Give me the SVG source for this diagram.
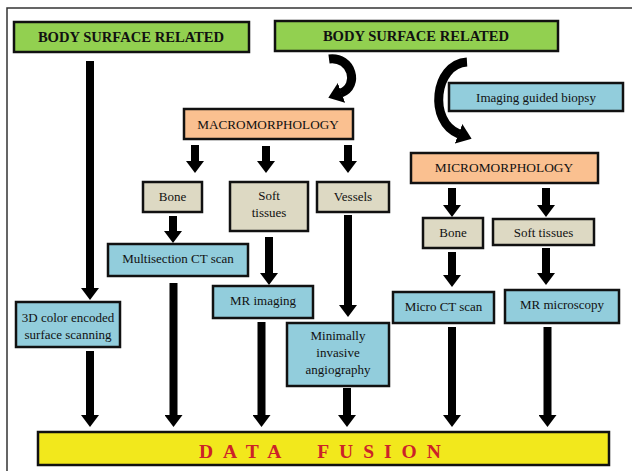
<svg xmlns="http://www.w3.org/2000/svg" width="632" height="471" viewBox="0 0 632 471">
<defs>
<style>
.frame{stroke:#333;stroke-width:1.5;fill:none}
.box{stroke:#111;stroke-width:2.5}
.green{fill:#92d050}
.orange{fill:#fac090}
.blue{fill:#92cddc}
.tan{fill:#ddd9c3}
.yellow{fill:#f2e81c}
.hdr{font-family:"Liberation Serif","Times New Roman",serif;font-weight:bold;font-size:14.6px;text-anchor:middle;fill:#111}
.lbl{font-family:"Liberation Serif","Times New Roman",serif;font-size:13px;text-anchor:middle;fill:#111}
.fusion{font-family:"Liberation Serif","Times New Roman",serif;font-weight:bold;font-size:19.5px;letter-spacing:10px;fill:#cc2229}
.conn{stroke:#000;stroke-width:8;fill:none}
.curve{stroke:#000;stroke-width:9;fill:none}
</style>
<marker id="ah" markerUnits="userSpaceOnUse" markerWidth="12" markerHeight="18" viewBox="0 0 12 18" refX="0.5" refY="9" orient="auto"><path d="M0,0L12,9L0,18z" fill="#000"/></marker>
<marker id="ahc" markerUnits="userSpaceOnUse" markerWidth="14" markerHeight="21" viewBox="0 0 14 21" refX="0.5" refY="10.5" orient="auto"><path d="M0,0L14,10.5L0,21z" fill="#000"/></marker>
</defs>
<rect width="632" height="471" fill="#fff"/>
<path class="frame" d="M632,8H7V471"/>

<g id="connectors">
<path class="curve" d="M329,59C352,56 360,86 341,93" marker-end="url(#ahc)"/>
<path class="curve" d="M467,62C434,64 428,122 459,134" marker-end="url(#ahc)"/>
<line class="conn" x1="90" y1="61" x2="90" y2="288.5" marker-end="url(#ah)"/>
<line class="conn" x1="195" y1="145" x2="195" y2="161.5" marker-end="url(#ah)"/>
<line class="conn" x1="266" y1="146" x2="266" y2="161.5" marker-end="url(#ah)"/>
<line class="conn" x1="348" y1="145" x2="348" y2="161.5" marker-end="url(#ah)"/>
<line class="conn" x1="173" y1="216" x2="173" y2="231.5" marker-end="url(#ah)"/>
<line class="conn" x1="269" y1="237" x2="269" y2="273.5" marker-end="url(#ah)"/>
<line class="conn" x1="348" y1="215" x2="348" y2="305.5" marker-end="url(#ah)"/>
<line class="conn" x1="452" y1="188" x2="452" y2="205.5" marker-end="url(#ah)"/>
<line class="conn" x1="546" y1="188" x2="546" y2="205.5" marker-end="url(#ah)"/>
<line class="conn" x1="452" y1="252" x2="452" y2="275.5" marker-end="url(#ah)"/>
<line class="conn" x1="546" y1="248" x2="546" y2="273.5" marker-end="url(#ah)"/>
<line class="conn" x1="90" y1="351" x2="90" y2="415.5" marker-end="url(#ah)"/>
<line class="conn" x1="173.5" y1="283" x2="173.5" y2="415.5" marker-end="url(#ah)"/>
<line class="conn" x1="261.5" y1="322" x2="261.5" y2="415.5" marker-end="url(#ah)"/>
<line class="conn" x1="347" y1="388" x2="347" y2="415.5" marker-end="url(#ah)"/>
<line class="conn" x1="452" y1="327" x2="452" y2="415.5" marker-end="url(#ah)"/>
<line class="conn" x1="547.5" y1="327" x2="547.5" y2="415.5" marker-end="url(#ah)"/>
</g>

<g id="body-surface-left">
<rect class="box green" x="14" y="22" width="235" height="30"/>
<text class="hdr" x="131" y="42">BODY SURFACE RELATED</text>
</g>
<g id="body-surface-right">
<rect class="box green" x="275" y="21" width="283" height="30"/>
<text class="hdr" x="416" y="41">BODY SURFACE RELATED</text>
</g>
<g id="macromorphology">
<rect class="box orange" x="184" y="109" width="169" height="30"/>
<text class="lbl" x="268" y="128.5" style="font-size:13.2px">MACROMORPHOLOGY</text>
</g>
<g id="imaging-guided-biopsy">
<rect class="box blue" x="449" y="83" width="174" height="28"/>
<text class="lbl" x="536" y="101.5">Imaging guided biopsy</text>
</g>
<g id="micromorphology">
<rect class="box orange" x="411" y="153" width="187" height="30"/>
<text class="lbl" x="504" y="172" style="font-size:13.4px">MICROMORPHOLOGY</text>
</g>
<g id="macro-bone">
<rect class="box tan" x="143" y="182" width="59" height="30"/>
<text class="lbl" x="172.5" y="200.5">Bone</text>
</g>
<g id="macro-soft-tissues">
<rect class="box tan" x="230" y="182" width="78" height="49"/>
<text class="lbl" x="269" y="200">Soft</text>
<text class="lbl" x="269" y="217">tissues</text>
</g>
<g id="vessels">
<rect class="box tan" x="317" y="182" width="72" height="30"/>
<text class="lbl" x="353" y="200.5">Vessels</text>
</g>
<g id="micro-bone">
<rect class="box tan" x="423" y="218" width="60" height="30"/>
<text class="lbl" x="453" y="236.5">Bone</text>
</g>
<g id="micro-soft-tissues">
<rect class="box tan" x="493" y="219" width="101" height="26"/>
<text class="lbl" x="543.5" y="236.5">Soft tissues</text>
</g>
<g id="multisection-ct">
<rect class="box blue" x="108" y="244" width="140" height="32"/>
<text class="lbl" x="178" y="263">Multisection CT scan</text>
</g>
<g id="mr-imaging">
<rect class="box blue" x="213" y="286" width="100" height="32"/>
<text class="lbl" x="263" y="305">MR imaging</text>
</g>
<g id="surface-scanning">
<rect class="box blue" x="16" y="302" width="104" height="45"/>
<text class="lbl" x="68" y="322">3D color encoded</text>
<text class="lbl" x="68" y="339">surface scanning</text>
</g>
<g id="angiography">
<rect class="box blue" x="287" y="323" width="102" height="63"/>
<text class="lbl" x="338" y="340">Minimally</text>
<text class="lbl" x="338" y="357">invasive</text>
<text class="lbl" x="338" y="374">angiography</text>
</g>
<g id="micro-ct">
<rect class="box blue" x="393" y="292" width="101" height="31"/>
<text class="lbl" x="443.5" y="311">Micro CT scan</text>
</g>
<g id="mr-microscopy">
<rect class="box blue" x="505" y="290" width="114" height="33"/>
<text class="lbl" x="562" y="309">MR microscopy</text>
</g>
<g id="data-fusion">
<rect class="box yellow" x="38" y="432" width="571" height="33"/>
<text class="fusion" x="199" y="458">DATA<tspan dx="12"> FUSION</tspan></text>
</g>
</svg>
